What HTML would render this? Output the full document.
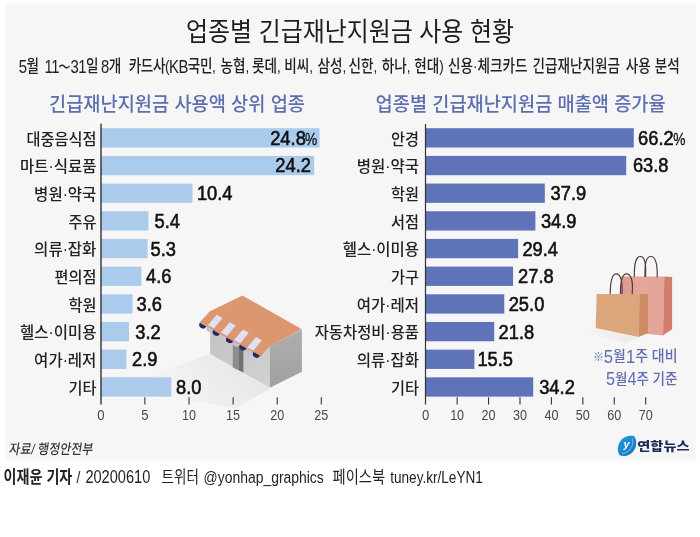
<!DOCTYPE html>
<html lang="ko"><head><meta charset="utf-8"><title>업종별 긴급재난지원금 사용 현황</title>
<style>
html,body{margin:0;padding:0;background:#fff;}
body{width:700px;height:537px;overflow:hidden;font-family:"Liberation Sans", "Noto Sans CJK KR", sans-serif;}
svg{display:block;}
</style></head><body>
<svg width="700" height="537" viewBox="0 0 700 537">
<defs><filter id="soft" x="-2%" y="-2%" width="104%" height="104%"><feGaussianBlur stdDeviation="0.8"/></filter></defs>
<rect width="700" height="537" fill="#fff"/>
<rect x="5" y="3" width="691" height="457.5" fill="#f6f6f6" filter="url(#soft)"/>
<defs>
<linearGradient id="shS" x1="1" y1="0" x2="0" y2="0.35"><stop offset="0" stop-color="#e3e3e3"/><stop offset="0.55" stop-color="#ededed"/><stop offset="1" stop-color="#f6f6f6"/></linearGradient>
<linearGradient id="shB" x1="1" y1="0" x2="0" y2="0.3"><stop offset="0" stop-color="#e6e6e6"/><stop offset="1" stop-color="#f6f6f6"/></linearGradient>
<linearGradient id="fw" x1="0" y1="0" x2="1" y2="1"><stop offset="0" stop-color="#c2c2c2"/><stop offset="1" stop-color="#d2d2d2"/></linearGradient>
<linearGradient id="rw" x1="0" y1="0" x2="0" y2="1"><stop offset="0" stop-color="#aeaeae"/><stop offset="1" stop-color="#a0a0a0"/></linearGradient>
<linearGradient id="pk" x1="0" y1="0" x2="1" y2="0"><stop offset="0" stop-color="#dd9a8d"/><stop offset="0.5" stop-color="#e6a89b"/><stop offset="1" stop-color="#e3a396"/></linearGradient>
</defs>
<g id="store">
<polygon points="210,354 270,388.5 236,408 140,392 150,376" fill="url(#shS)"/>
<polygon points="210.2,326 269.8,345.8 269.8,387.7 210.2,354" fill="url(#fw)"/>
<polygon points="232.8,340 238.6,342.5 238.6,370.2 232.8,367.5" fill="#8c8c8c"/>
<polygon points="238.6,342.5 243.3,345 243.3,372.4 238.6,370.2" fill="#707070"/>
<polygon points="269.8,345.8 301.9,329.8 301.9,371.7 269.8,387.7" fill="url(#rw)"/>
<polygon points="209.5,311.5 242.4,295.5 301.9,329.3 269.8,346 260.2,357 199.6,322.6" fill="#dc9770"/>
<g fill="#e0e0f2">
<polygon points="216.7,314.8 222.6,318 214,328.6 207.8,325.2"/>
<polygon points="229.8,322.2 235.7,325.4 227.1,336 220.9,332.6"/>
<polygon points="242.9,329.6 248.8,332.8 240.2,343.4 234,340"/>
<polygon points="256,337 261.9,340.2 253.3,350.8 247.1,347.4"/>
</g>
<g fill="#c4c4d2"><path d="M206.6,326.6 L213.2,330.2 A3.6,3.6 0 0 1 206.6,326.6Z"/><path d="M220.0,333.9 L226.6,337.5 A3.6,3.6 0 0 1 220.0,333.9Z"/><path d="M233.4,341.2 L240.0,344.8 A3.6,3.6 0 0 1 233.4,341.2Z"/><path d="M246.8,348.5 L253.4,352.1 A3.6,3.6 0 0 1 246.8,348.5Z"/></g>
<g fill="#2b2563">
<path d="M199.8,322.8 L206.4,326.6 A3.6,3.6 0 0 1 199.8,322.8Z"/>
<path d="M213.2,330.1 L219.8,333.9 A3.6,3.6 0 0 1 213.2,330.1Z"/>
<path d="M226.6,337.4 L233.2,341.2 A3.6,3.6 0 0 1 226.6,337.4Z"/>
<path d="M240,344.7 L246.6,348.5 A3.6,3.6 0 0 1 240,344.7Z"/>
<path d="M253.4,352 L260,355.8 A3.6,3.6 0 0 1 253.4,352Z"/>
</g>
</g>
<g id="bags">
<polygon points="596,328 639,337.5 625,343 583,333" fill="url(#shB)"/>
<polygon points="621,276.6 664.3,276.6 663,335.4 621,331" fill="url(#pk)"/>
<polygon points="664.3,276.6 672.1,277 672.1,329.3 663,335.4" fill="#d27d6e"/>
<g fill="none" stroke="#4b3a38" stroke-width="1.15" stroke-linecap="round">
<path d="M634.3,276.5 C634.3,262 636,256.5 640.4,256.5 C644.6,256.5 646.2,263 645.6,276.5"/>
<path d="M645,276.5 C644.6,262 646.5,256.5 650.8,256.5 C655.4,256.5 657.6,264 657.2,277"/>
</g>
<g fill="none" stroke="#4b3a38" stroke-width="1.15" stroke-linecap="round">
<path d="M610.2,293.6 C610.4,280 612,273.8 616.2,273.8 C620.6,273.8 622.6,281 622,293.6"/>
<path d="M620.4,293.6 C620.4,280 622,273.8 626.5,273.8 C631.4,273.8 633.2,281 632.2,293.6"/>
</g>
<polygon points="596.7,294 640,294.3 638.6,337.1 595.7,327.9" fill="#dca67d"/>
<polygon points="640,294.3 647.9,294 647.9,332.9 638.6,337.1" fill="#cd8c63"/>
</g>

<text x="186" y="41" font-size="26" fill="#1e1e1e" font-weight="400" text-anchor="start" font-family='"Liberation Sans", "Noto Sans CJK KR", sans-serif' textLength="328" lengthAdjust="spacingAndGlyphs" >업종별 긴급재난지원금 사용 현황</text>
<text transform="scale(0.825 1)" font-size="16.5" fill="#222" font-weight="500" font-family='"Liberation Sans", "Noto Sans CJK KR", sans-serif'><tspan x="22.79" y="72"><tspan font-size="18.0" dy="1.0" letter-spacing="-0.6">5</tspan><tspan dy="-1.0">월</tspan></tspan> <tspan x="54.06" y="72"><tspan font-size="18.0" dy="1.0" letter-spacing="-0.6">11</tspan><tspan dy="-1.0"><tspan font-size="14.5" dx="-0.6">～</tspan></tspan><tspan font-size="18.0" dy="1.0" letter-spacing="-0.6">31</tspan><tspan dy="-1.0">일</tspan></tspan> <tspan x="122.42" y="72"><tspan font-size="18.0" dy="1.0" letter-spacing="-0.6">8</tspan><tspan dy="-1.0">개</tspan></tspan> <tspan x="156.12" y="72" letter-spacing="-0.55">카드사(<tspan font-size="18.0" dy="1.0" letter-spacing="-0.6">KB</tspan><tspan dy="-1.0">국민,</tspan></tspan> <tspan x="267.15" y="72">농협,</tspan> <tspan x="305.33" y="72">롯데,</tspan> <tspan x="344.61" y="72">비씨,</tspan> <tspan x="384.73" y="72">삼성,</tspan> <tspan x="422.42" y="72">신한,</tspan> <tspan x="462.67" y="72">하나,</tspan> <tspan x="502.18" y="72">현대)</tspan> <tspan x="543.03" y="72">신용·체크카드</tspan> <tspan x="645.33" y="72">긴급재난지원금</tspan> <tspan x="758.42" y="72">사용</tspan> <tspan x="793.70" y="72">분석</tspan></text>
<text x="49" y="111" font-size="19.8" fill="#5f6eb0" font-weight="500" text-anchor="start" font-family='"Liberation Sans", "Noto Sans CJK KR", sans-serif' textLength="256" lengthAdjust="spacingAndGlyphs" >긴급재난지원금 사용액 상위 업종</text>
<text x="375.6" y="111" font-size="19.8" fill="#5f6eb0" font-weight="500" text-anchor="start" font-family='"Liberation Sans", "Noto Sans CJK KR", sans-serif' textLength="290" lengthAdjust="spacingAndGlyphs" >업종별 긴급재난지원금 매출액 증가율</text>
<rect x="100.8" y="128.20" width="218.74" height="19.3" fill="#abcbec"/>
<text x="96.4" y="144.5" font-size="15.6" fill="#222" font-weight="500" text-anchor="end" font-family='"Liberation Sans", "Noto Sans CJK KR", sans-serif' textLength="70.0" lengthAdjust="spacingAndGlyphs" >대중음식점</text>
<text transform="translate(270.20 144.8) scale(0.88 1)" font-size="20.8" fill="#111" stroke="#111" stroke-width="0.6" font-family='"Liberation Sans", sans-serif'>24.8</text>
<text x="305.0" y="144.8" font-size="16.5" fill="#111" font-weight="400" text-anchor="start" font-family='"Liberation Sans", sans-serif' textLength="12.2" lengthAdjust="spacingAndGlyphs" stroke="#111" stroke-width="0.3">%</text>
<rect x="100.8" y="155.88" width="213.44" height="19.3" fill="#abcbec"/>
<text x="96.4" y="172.18" font-size="15.6" fill="#222" font-weight="500" text-anchor="end" font-family='"Liberation Sans", "Noto Sans CJK KR", sans-serif' textLength="76.3" lengthAdjust="spacingAndGlyphs" >마트·식료품</text>
<text transform="translate(275.30 172.48) scale(0.88 1)" font-size="20.8" fill="#111" stroke="#111" stroke-width="0.6" font-family='"Liberation Sans", sans-serif'>24.2</text>
<rect x="100.8" y="183.56" width="91.73" height="19.3" fill="#abcbec"/>
<text x="96.4" y="199.86" font-size="15.6" fill="#222" font-weight="500" text-anchor="end" font-family='"Liberation Sans", "Noto Sans CJK KR", sans-serif' textLength="62.3" lengthAdjust="spacingAndGlyphs" >병원·약국</text>
<text transform="translate(196.90 200.16) scale(0.88 1)" font-size="20.8" fill="#111" stroke="#111" stroke-width="0.6" font-family='"Liberation Sans", sans-serif'>10.4</text>
<rect x="100.8" y="211.24" width="47.63" height="19.3" fill="#abcbec"/>
<text x="96.4" y="227.54" font-size="15.6" fill="#222" font-weight="500" text-anchor="end" font-family='"Liberation Sans", "Noto Sans CJK KR", sans-serif' textLength="28.0" lengthAdjust="spacingAndGlyphs" >주유</text>
<text transform="translate(154.60 227.84) scale(0.88 1)" font-size="20.8" fill="#111" stroke="#111" stroke-width="0.6" font-family='"Liberation Sans", sans-serif'>5.4</text>
<rect x="100.8" y="238.92" width="46.75" height="19.3" fill="#abcbec"/>
<text x="96.4" y="255.22" font-size="15.6" fill="#222" font-weight="500" text-anchor="end" font-family='"Liberation Sans", "Noto Sans CJK KR", sans-serif' textLength="62.3" lengthAdjust="spacingAndGlyphs" >의류·잡화</text>
<text transform="translate(150.60 255.52) scale(0.88 1)" font-size="20.8" fill="#111" stroke="#111" stroke-width="0.6" font-family='"Liberation Sans", sans-serif'>5.3</text>
<rect x="100.8" y="266.60" width="40.57" height="19.3" fill="#abcbec"/>
<text x="96.4" y="282.9" font-size="15.6" fill="#222" font-weight="500" text-anchor="end" font-family='"Liberation Sans", "Noto Sans CJK KR", sans-serif' textLength="42.0" lengthAdjust="spacingAndGlyphs" >편의점</text>
<text transform="translate(146.10 283.2) scale(0.88 1)" font-size="20.8" fill="#111" stroke="#111" stroke-width="0.6" font-family='"Liberation Sans", sans-serif'>4.6</text>
<rect x="100.8" y="294.28" width="31.75" height="19.3" fill="#abcbec"/>
<text x="96.4" y="310.58" font-size="15.6" fill="#222" font-weight="500" text-anchor="end" font-family='"Liberation Sans", "Noto Sans CJK KR", sans-serif' textLength="28.0" lengthAdjust="spacingAndGlyphs" >학원</text>
<text transform="translate(136.60 310.88) scale(0.88 1)" font-size="20.8" fill="#111" stroke="#111" stroke-width="0.6" font-family='"Liberation Sans", sans-serif'>3.6</text>
<rect x="100.8" y="321.96" width="28.22" height="19.3" fill="#abcbec"/>
<text x="96.4" y="338.26" font-size="15.6" fill="#222" font-weight="500" text-anchor="end" font-family='"Liberation Sans", "Noto Sans CJK KR", sans-serif' textLength="76.3" lengthAdjust="spacingAndGlyphs" >헬스·이미용</text>
<text transform="translate(135.30 338.56) scale(0.88 1)" font-size="20.8" fill="#111" stroke="#111" stroke-width="0.6" font-family='"Liberation Sans", sans-serif'>3.2</text>
<rect x="100.8" y="349.64" width="25.58" height="19.3" fill="#abcbec"/>
<text x="96.4" y="365.94" font-size="15.6" fill="#222" font-weight="500" text-anchor="end" font-family='"Liberation Sans", "Noto Sans CJK KR", sans-serif' textLength="62.3" lengthAdjust="spacingAndGlyphs" >여가·레저</text>
<text transform="translate(132.00 366.24) scale(0.88 1)" font-size="20.8" fill="#111" stroke="#111" stroke-width="0.6" font-family='"Liberation Sans", sans-serif'>2.9</text>
<rect x="100.8" y="377.32" width="70.56" height="19.3" fill="#abcbec"/>
<text x="96.4" y="393.62" font-size="15.6" fill="#222" font-weight="500" text-anchor="end" font-family='"Liberation Sans", "Noto Sans CJK KR", sans-serif' textLength="28.0" lengthAdjust="spacingAndGlyphs" >기타</text>
<text transform="translate(176.10 393.92) scale(0.88 1)" font-size="20.8" fill="#111" stroke="#111" stroke-width="0.6" font-family='"Liberation Sans", sans-serif'>8.0</text>
<line x1="101" y1="123.7" x2="101" y2="404.4" stroke="#333" stroke-width="1.4"/>
<line x1="144.90" y1="397.2" x2="144.90" y2="404.4" stroke="#333" stroke-width="1.1"/>
<line x1="189.00" y1="397.2" x2="189.00" y2="404.4" stroke="#333" stroke-width="1.1"/>
<line x1="233.10" y1="397.2" x2="233.10" y2="404.4" stroke="#333" stroke-width="1.1"/>
<line x1="277.20" y1="397.2" x2="277.20" y2="404.4" stroke="#333" stroke-width="1.1"/>
<line x1="321.30" y1="397.2" x2="321.30" y2="404.4" stroke="#333" stroke-width="1.1"/>
<text x="100.80" y="420.3" font-size="13.9" fill="#484848" font-weight="400" text-anchor="middle" font-family='"Liberation Sans", sans-serif' textLength="7.3" lengthAdjust="spacingAndGlyphs" >0</text>
<text x="144.90" y="420.3" font-size="13.9" fill="#484848" font-weight="400" text-anchor="middle" font-family='"Liberation Sans", sans-serif' textLength="7.3" lengthAdjust="spacingAndGlyphs" >5</text>
<text x="189.00" y="420.3" font-size="13.9" fill="#484848" font-weight="400" text-anchor="middle" font-family='"Liberation Sans", sans-serif' textLength="14.0" lengthAdjust="spacingAndGlyphs" >10</text>
<text x="233.10" y="420.3" font-size="13.9" fill="#484848" font-weight="400" text-anchor="middle" font-family='"Liberation Sans", sans-serif' textLength="14.0" lengthAdjust="spacingAndGlyphs" >15</text>
<text x="277.20" y="420.3" font-size="13.9" fill="#484848" font-weight="400" text-anchor="middle" font-family='"Liberation Sans", sans-serif' textLength="14.0" lengthAdjust="spacingAndGlyphs" >20</text>
<text x="321.30" y="420.3" font-size="13.9" fill="#484848" font-weight="400" text-anchor="middle" font-family='"Liberation Sans", sans-serif' textLength="14.0" lengthAdjust="spacingAndGlyphs" >25</text>
<rect x="425.7" y="128.20" width="208.07" height="19.3" fill="#5f73b8"/>
<text x="419" y="144.5" font-size="15.6" fill="#222" font-weight="500" text-anchor="end" font-family='"Liberation Sans", "Noto Sans CJK KR", sans-serif' textLength="28.0" lengthAdjust="spacingAndGlyphs" >안경</text>
<text transform="translate(638.10 144.8) scale(0.88 1)" font-size="20.8" fill="#111" stroke="#111" stroke-width="0.6" font-family='"Liberation Sans", sans-serif'>66.2</text>
<text x="673.3" y="144.8" font-size="16.5" fill="#111" font-weight="400" text-anchor="start" font-family='"Liberation Sans", sans-serif' textLength="12.2" lengthAdjust="spacingAndGlyphs" stroke="#111" stroke-width="0.3">%</text>
<rect x="425.7" y="155.88" width="200.52" height="19.3" fill="#5f73b8"/>
<text x="419" y="172.18" font-size="15.6" fill="#222" font-weight="500" text-anchor="end" font-family='"Liberation Sans", "Noto Sans CJK KR", sans-serif' textLength="62.3" lengthAdjust="spacingAndGlyphs" >병원·약국</text>
<text transform="translate(632.90 172.48) scale(0.88 1)" font-size="20.8" fill="#111" stroke="#111" stroke-width="0.6" font-family='"Liberation Sans", sans-serif'>63.8</text>
<rect x="425.7" y="183.56" width="119.12" height="19.3" fill="#5f73b8"/>
<text x="419" y="199.86" font-size="15.6" fill="#222" font-weight="500" text-anchor="end" font-family='"Liberation Sans", "Noto Sans CJK KR", sans-serif' textLength="28.0" lengthAdjust="spacingAndGlyphs" >학원</text>
<text transform="translate(550.60 200.16) scale(0.88 1)" font-size="20.8" fill="#111" stroke="#111" stroke-width="0.6" font-family='"Liberation Sans", sans-serif'>37.9</text>
<rect x="425.7" y="211.24" width="109.69" height="19.3" fill="#5f73b8"/>
<text x="419" y="227.54" font-size="15.6" fill="#222" font-weight="500" text-anchor="end" font-family='"Liberation Sans", "Noto Sans CJK KR", sans-serif' textLength="28.0" lengthAdjust="spacingAndGlyphs" >서점</text>
<text transform="translate(540.90 227.84) scale(0.88 1)" font-size="20.8" fill="#111" stroke="#111" stroke-width="0.6" font-family='"Liberation Sans", sans-serif'>34.9</text>
<rect x="425.7" y="238.92" width="92.40" height="19.3" fill="#5f73b8"/>
<text x="419" y="255.22" font-size="15.6" fill="#222" font-weight="500" text-anchor="end" font-family='"Liberation Sans", "Noto Sans CJK KR", sans-serif' textLength="76.3" lengthAdjust="spacingAndGlyphs" >헬스·이미용</text>
<text transform="translate(522.40 255.52) scale(0.88 1)" font-size="20.8" fill="#111" stroke="#111" stroke-width="0.6" font-family='"Liberation Sans", sans-serif'>29.4</text>
<rect x="425.7" y="266.60" width="87.38" height="19.3" fill="#5f73b8"/>
<text x="419" y="282.9" font-size="15.6" fill="#222" font-weight="500" text-anchor="end" font-family='"Liberation Sans", "Noto Sans CJK KR", sans-serif' textLength="28.0" lengthAdjust="spacingAndGlyphs" >가구</text>
<text transform="translate(518.10 283.2) scale(0.88 1)" font-size="20.8" fill="#111" stroke="#111" stroke-width="0.6" font-family='"Liberation Sans", sans-serif'>27.8</text>
<rect x="425.7" y="294.28" width="78.57" height="19.3" fill="#5f73b8"/>
<text x="419" y="310.58" font-size="15.6" fill="#222" font-weight="500" text-anchor="end" font-family='"Liberation Sans", "Noto Sans CJK KR", sans-serif' textLength="62.3" lengthAdjust="spacingAndGlyphs" >여가·레저</text>
<text transform="translate(508.70 310.88) scale(0.88 1)" font-size="20.8" fill="#111" stroke="#111" stroke-width="0.6" font-family='"Liberation Sans", sans-serif'>25.0</text>
<rect x="425.7" y="321.96" width="68.52" height="19.3" fill="#5f73b8"/>
<text x="419" y="338.26" font-size="15.6" fill="#222" font-weight="500" text-anchor="end" font-family='"Liberation Sans", "Noto Sans CJK KR", sans-serif' textLength="104.3" lengthAdjust="spacingAndGlyphs" >자동차정비·용품</text>
<text transform="translate(498.60 338.56) scale(0.88 1)" font-size="20.8" fill="#111" stroke="#111" stroke-width="0.6" font-family='"Liberation Sans", sans-serif'>21.8</text>
<rect x="425.7" y="349.64" width="48.72" height="19.3" fill="#5f73b8"/>
<text x="419" y="365.94" font-size="15.6" fill="#222" font-weight="500" text-anchor="end" font-family='"Liberation Sans", "Noto Sans CJK KR", sans-serif' textLength="62.3" lengthAdjust="spacingAndGlyphs" >의류·잡화</text>
<text transform="translate(477.40 366.24) scale(0.88 1)" font-size="20.8" fill="#111" stroke="#111" stroke-width="0.6" font-family='"Liberation Sans", sans-serif'>15.5</text>
<rect x="425.7" y="377.32" width="107.49" height="19.3" fill="#5f73b8"/>
<text x="419" y="393.62" font-size="15.6" fill="#222" font-weight="500" text-anchor="end" font-family='"Liberation Sans", "Noto Sans CJK KR", sans-serif' textLength="28.0" lengthAdjust="spacingAndGlyphs" >기타</text>
<text transform="translate(539.20 393.92) scale(0.88 1)" font-size="20.8" fill="#111" stroke="#111" stroke-width="0.6" font-family='"Liberation Sans", sans-serif'>34.2</text>
<line x1="425.5" y1="124" x2="425.5" y2="404.4" stroke="#333" stroke-width="1.2"/>
<line x1="457.13" y1="397.2" x2="457.13" y2="404.4" stroke="#333" stroke-width="1.1"/>
<line x1="488.56" y1="397.2" x2="488.56" y2="404.4" stroke="#333" stroke-width="1.1"/>
<line x1="519.99" y1="397.2" x2="519.99" y2="404.4" stroke="#333" stroke-width="1.1"/>
<line x1="551.42" y1="397.2" x2="551.42" y2="404.4" stroke="#333" stroke-width="1.1"/>
<line x1="582.85" y1="397.2" x2="582.85" y2="404.4" stroke="#333" stroke-width="1.1"/>
<line x1="614.28" y1="397.2" x2="614.28" y2="404.4" stroke="#333" stroke-width="1.1"/>
<line x1="645.71" y1="397.2" x2="645.71" y2="404.4" stroke="#333" stroke-width="1.1"/>
<text x="425.70" y="420.3" font-size="13.9" fill="#484848" font-weight="400" text-anchor="middle" font-family='"Liberation Sans", sans-serif' textLength="7.3" lengthAdjust="spacingAndGlyphs" >0</text>
<text x="457.13" y="420.3" font-size="13.9" fill="#484848" font-weight="400" text-anchor="middle" font-family='"Liberation Sans", sans-serif' textLength="14.0" lengthAdjust="spacingAndGlyphs" >10</text>
<text x="488.56" y="420.3" font-size="13.9" fill="#484848" font-weight="400" text-anchor="middle" font-family='"Liberation Sans", sans-serif' textLength="14.0" lengthAdjust="spacingAndGlyphs" >20</text>
<text x="519.99" y="420.3" font-size="13.9" fill="#484848" font-weight="400" text-anchor="middle" font-family='"Liberation Sans", sans-serif' textLength="14.0" lengthAdjust="spacingAndGlyphs" >30</text>
<text x="551.42" y="420.3" font-size="13.9" fill="#484848" font-weight="400" text-anchor="middle" font-family='"Liberation Sans", sans-serif' textLength="14.0" lengthAdjust="spacingAndGlyphs" >40</text>
<text x="582.85" y="420.3" font-size="13.9" fill="#484848" font-weight="400" text-anchor="middle" font-family='"Liberation Sans", sans-serif' textLength="14.0" lengthAdjust="spacingAndGlyphs" >50</text>
<text x="614.28" y="420.3" font-size="13.9" fill="#484848" font-weight="400" text-anchor="middle" font-family='"Liberation Sans", sans-serif' textLength="14.0" lengthAdjust="spacingAndGlyphs" >60</text>
<text x="645.71" y="420.3" font-size="13.9" fill="#484848" font-weight="400" text-anchor="middle" font-family='"Liberation Sans", sans-serif' textLength="14.0" lengthAdjust="spacingAndGlyphs" >70</text>
<text x="593" y="361.3" font-size="14.8" fill="#5f6eb0" font-weight="500" font-family='"Liberation Sans", "Noto Sans CJK KR", sans-serif' textLength="84.5" lengthAdjust="spacingAndGlyphs"><tspan font-size="11.5" dy="-0.8" font-weight="400">※</tspan><tspan font-size="17.6" dy="2.0">5</tspan><tspan dy="-1.2">월</tspan><tspan font-size="17.6" dy="1.2">1</tspan><tspan dy="-1.2">주 대비</tspan></text>
<text x="606" y="384.2" font-size="14.8" fill="#5f6eb0" font-weight="500" text-anchor="start" font-family='"Liberation Sans", "Noto Sans CJK KR", sans-serif' textLength="71.5" lengthAdjust="spacingAndGlyphs" ><tspan font-size="17.6" dy="1.2">5</tspan><tspan dy="-1.2">월</tspan><tspan font-size="17.6" dy="1.2">4</tspan><tspan dy="-1.2">주 기준</tspan></text>
<text x="0" y="0" font-size="14" fill="#383838" font-weight="500" text-anchor="start" font-family='"Liberation Sans", "Noto Sans CJK KR", sans-serif' textLength="84" lengthAdjust="spacingAndGlyphs" transform="translate(8.6 453.8) skewX(-9)">자료/ 행정안전부</text>
<g id="logo"><defs><linearGradient id="lg" x1="0" y1="0" x2="1" y2="1"><stop offset="0" stop-color="#2a9be0"/><stop offset="1" stop-color="#1173bd"/></linearGradient></defs><g transform="translate(627 445.9) scale(0.91 0.95) translate(-627 -445.4)"><path d="M634.9,435.2 C641.5,444 633,459 619.2,455.6 C612.5,447 621,432 634.9,435.2Z" fill="url(#lg)"/><path d="M632.6,437.6 C635.4,444.5 629.8,453 621.6,453.4" fill="none" stroke="#7cc4ef" stroke-width="1.1" opacity="0.8"/></g><text x="623.6" y="448.4" font-size="11" font-style="italic" font-weight="700" fill="#fff" font-family='"Liberation Sans", sans-serif'>y</text></g>
<text x="637.3" y="450.7" font-size="12" fill="#1f2b58" font-weight="900" text-anchor="start" font-family='"Liberation Sans", "Noto Sans CJK KR", sans-serif' textLength="52.3" lengthAdjust="spacingAndGlyphs" >연합뉴스</text>
<text transform="scale(0.82 1)" font-size="16.5" fill="#222" font-family='"Liberation Sans", "Noto Sans CJK KR", sans-serif'><tspan x="4.39" y="482.6" font-weight="700" font-size="17.2">이재윤 기자</tspan> <tspan x="93.41" y="482.6" font-size="17">/</tspan> <tspan x="104.15" y="482.6" font-size="17.8">20200610</tspan> <tspan x="197.07" y="482.6">트위터</tspan> <tspan x="248.29" y="482.6" font-size="17">@yonhap_graphics</tspan> <tspan x="405.61" y="482.6" font-size="17.4">페이스북</tspan> <tspan x="475.85" y="482.6" font-size="16.6">tuney.kr/LeYN1</tspan></text>
</svg>
</body></html>
